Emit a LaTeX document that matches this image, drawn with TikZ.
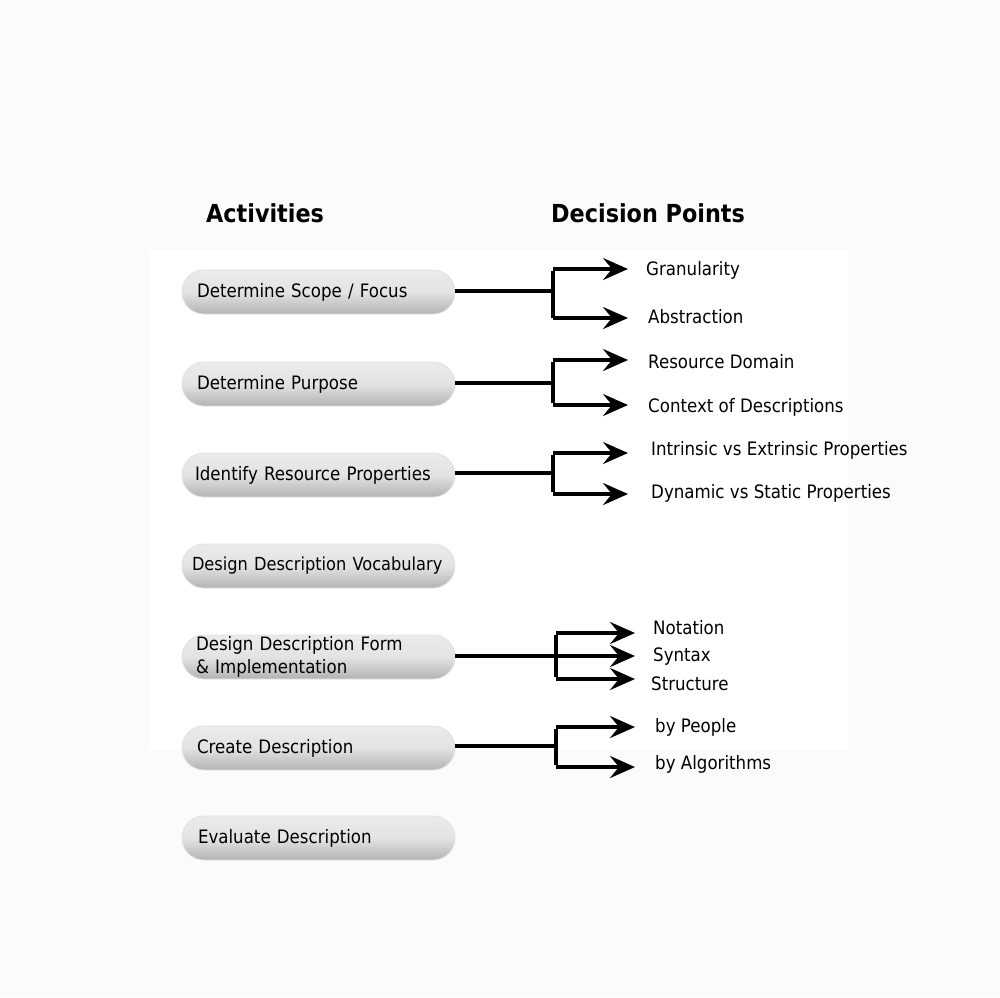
\documentclass[tikz,border=0pt]{standalone}
\usepackage{fontspec}
\setmainfont{DejaVu Sans}[FakeStretch=0.9]
\usetikzlibrary{arrows.meta}
\begin{document}
\begin{tikzpicture}[x=1pt,y=-1pt,
  pill/.style={rounded corners=22pt, minimum width=273pt, minimum height=44pt,
    top color=black!8, bottom color=black!30, middle color=black!11,
    draw=black!12, line width=0.8pt,
    text width=243pt, align=left, inner xsep=15pt, inner ysep=0pt,
    font=\fontsize{18.5}{23}\selectfont},
  head/.style={font=\fontsize{24.8}{28}\selectfont\bfseries, anchor=west, inner sep=0pt},
  lab/.style={font=\fontsize{18.5}{22}\selectfont, anchor=west, inner xsep=18pt, inner ysep=0pt},
  link/.style={line width=3.6pt},
  arr/.style={line width=3.6pt, -{Stealth[length=25pt,width=22pt,inset=9pt]}}
]
\useasboundingbox (0,0) rectangle (1000,997);
\fill[black!1.5] (0,0) rectangle (1000,997);
\fill[white] (150,250) rectangle (848,750);

\node[head] (hA) at (206,213) {Activities};
\node[head] (hD) at (551,213) {Decision Points};

\node[pill] (p1) at (318.5,292) {Determine Scope / Focus};
\node[pill] (p2) at (318.5,384) {Determine Purpose};
\node[pill, text width=247pt, inner xsep=13pt] (p3) at (318.5,475) {Identify Resource Properties};
\node[pill, text width=253pt, inner xsep=10pt] (p4) at (318.5,566) {\mbox{\fontsize{18}{22}\selectfont Design Description Vocabulary}};
\node[pill, text width=245pt, inner xsep=14pt, font=\fontsize{18.5}{23}\selectfont] (p5) at (318.5,657) {Design Description Form\\\& Implementation};
\node[pill] (p6) at (318.5,748) {Create Description};
\node[pill, text width=241pt, inner xsep=16pt] (p7) at (318.5,838) {Evaluate Description};

\node[lab] (g1) at (628,270) {Granularity};
\node[lab] (g2) at (630,317) {Abstraction};
\node[lab] (r1) at (630,362) {Resource Domain};
\node[lab] (r2) at (630,407) {Context of Descriptions};
\node[lab] (i1) at (633,450) {Intrinsic vs Extrinsic Properties};
\node[lab] (i2) at (633,493) {Dynamic vs Static Properties};
\node[lab] (n1) at (635,628) {Notation};
\node[lab] (n2) at (635,657) {Syntax};
\node[lab] (n3) at (633,684) {Structure};
\node[lab] (c1) at (637,727) {by People};
\node[lab] (c2) at (637,764) {by Algorithms};

% group 1
\coordinate (j1) at (553,291);
\coordinate (j1t) at (553,269);
\coordinate (j1b) at (553,318);
\draw[link] (p1.east |- j1) -- (j1);
\draw[link] ([yshift=-1.8pt]j1t) -- (j1b);
\draw[arr] (j1t) -- (j1t -| g1.west);
\draw[arr] (j1b) -- (j1b -| g1.west);

% group 2
\coordinate (j2) at (553,383);
\coordinate (j2t) at (553,360);
\coordinate (j2b) at (553,405);
\draw[link] (p2.east |- j2) -- (j2);
\draw[link] ([yshift=-1.8pt]j2t) -- ([yshift=1.8pt]j2b);
\draw[arr] (j2t) -- (j2t -| g1.west);
\draw[arr] (j2b) -- (j2b -| g1.west);

% group 3
\coordinate (j3) at (553,473);
\coordinate (j3t) at (553,453);
\coordinate (j3b) at (553,494);
\draw[link] (p3.east |- j3) -- (j3);
\draw[link] ([yshift=-1.8pt]j3t) -- ([yshift=1.8pt]j3b);
\draw[arr] (j3t) -- (j3t -| g1.west);
\draw[arr] (j3b) -- (j3b -| g1.west);

% group 5
\coordinate (j5) at (556,656);
\coordinate (j5t) at (556,633);
\coordinate (j5b) at (556,679);
\draw[link] (p5.east |- j5) -- (j5);
\draw[link] ([yshift=-1.8pt]j5t) -- ([yshift=1.8pt]j5b);
\draw[arr] (j5t) -- (j5t -| n1.west);
\draw[arr] (j5) -- (j5 -| n1.west);
\draw[arr] (j5b) -- (j5b -| n1.west);

% group 6
\coordinate (j6) at (556,746);
\coordinate (j6t) at (556,727);
\coordinate (j6b) at (556,767);
\draw[link] (p6.east |- j6) -- (j6);
\draw[link] ([yshift=-1.8pt]j6t) -- ([yshift=1.8pt]j6b);
\draw[arr] (j6t) -- (j6t -| n1.west);
\draw[arr] (j6b) -- (j6b -| n1.west);
\end{tikzpicture}
\end{document}
